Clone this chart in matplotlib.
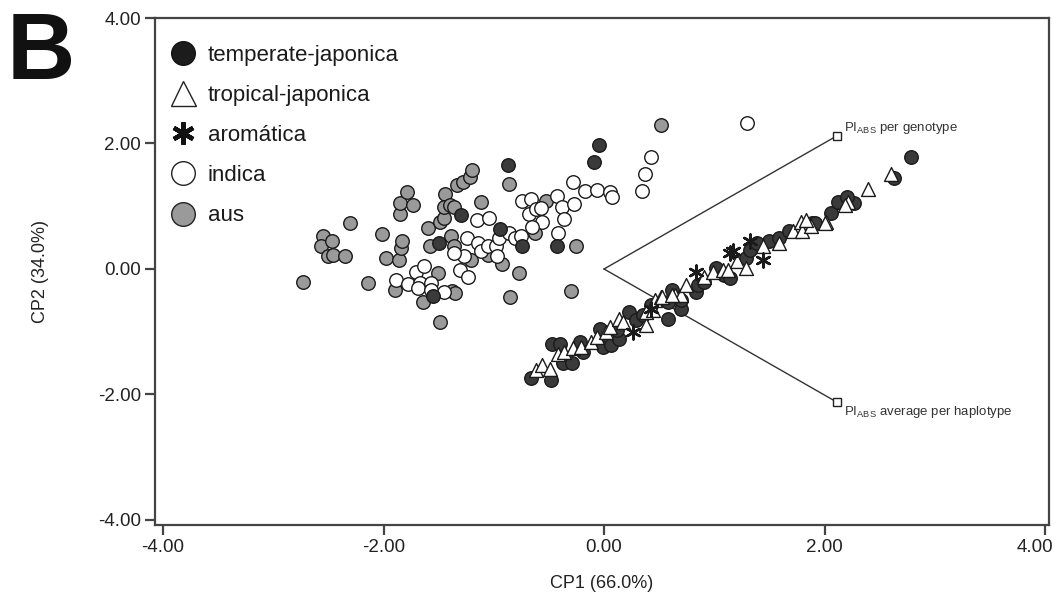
import matplotlib
matplotlib.use("Agg")
import matplotlib.pyplot as plt
from matplotlib.lines import Line2D
import matplotlib.transforms as mtransforms

plt.rcParams['font.family'] = ['Liberation Sans', 'DejaVu Sans']
plt.rcParams['mathtext.default'] = 'regular'

# ---------------- data ----------------
aus_x = [-2.73, -2.55, -2.57, -2.47, -2.50, -2.46, -2.35, -2.30, -2.14, -2.01, -1.98, -1.90,
         -1.86, -1.84, -1.83, -1.85, -1.85, -1.79, -1.73, -1.64, -1.60, -1.58, -1.51, -1.49,
         -1.45, -1.44, -1.45, -1.40, -1.36, -1.39, -1.36, -1.33, -1.28, -1.22, -1.20, -1.49,
         -1.38, -1.35, -1.21, -1.12, -1.05, -0.93, -0.86, -0.85, -0.77, -0.63, -0.53, -0.30,
         -0.25, 0.52]
aus_y = [-0.21, 0.53, 0.37, 0.44, 0.20, 0.22, 0.21, 0.74, -0.23, 0.55, 0.18, -0.33,
         0.14, 0.33, 0.45, 0.88, 1.05, 1.22, 1.02, -0.53, 0.65, 0.37, -0.06, 0.75,
         0.82, 1.20, 0.98, 1.02, 0.98, 0.53, 0.37, 1.34, 1.38, 1.47, 1.57, -0.85,
         -0.35, -0.38, 0.14, 1.07, 0.22, 0.08, 1.35, -0.45, -0.07, 0.57, 1.09, -0.35,
         0.36, 2.30]

indica_x = [-1.89, -1.78, -1.71, -1.63, -1.67, -1.57, -1.69, -1.57, -1.45, -1.31, -1.23, -1.27,
            -1.36, -1.24, -1.15, -1.04, -1.14, -1.12, -1.05, -0.98, -0.97, -0.95, -0.86, -0.81,
            -0.75, -0.74, -0.66, -0.68, -0.62, -0.57, -0.56, -0.65, -0.43, -0.38, -0.36, -0.42,
            -0.28, -0.27, -0.17, -0.06, 0.05, 0.07, 0.34, 0.37, 0.43, 1.30]
indica_y = [-0.18, -0.24, -0.04, 0.05, -0.22, -0.22, -0.31, -0.33, -0.37, -0.02, -0.13, 0.20,
            0.25, 0.49, 0.78, 0.81, 0.41, 0.29, 0.36, 0.37, 0.21, 0.49, 0.57, 0.49,
            0.53, 1.09, 1.11, 0.88, 0.95, 0.97, 0.75, 0.67, 1.16, 0.98, 0.80, 0.58,
            1.39, 1.03, 1.24, 1.26, 1.22, 1.14, 1.25, 1.52, 1.78, 2.32]

temperate_x = [-0.87, -0.05, -0.09, -1.30, -0.94, -1.50, -0.74, -1.55, -0.43,
               -0.66, -0.48, -0.47, -0.40, -0.37, -0.29, -0.22, -0.19, -0.04, -0.01,
               0.06, 0.14, 0.12, 0.23, 0.29, 0.35, 0.58, 0.62, 0.70, 0.43,
               0.58, 0.70, 0.83, 0.85, 1.02, 1.09, 1.14, 1.29, 1.32, 1.39,
               1.50, 1.59, 1.68, 1.89, 2.06, 2.15, 2.27, 0.91, 2.78, 2.63,
               2.12, 2.20, 1.91]
temperate_y = [1.65, 1.98, 1.70, 0.86, 0.63, 0.42, 0.37, -0.43, 0.37,
               -1.73, -1.77, -1.19, -1.19, -1.50, -1.50, -1.16, -1.32, -0.95, -1.24,
               -1.21, -1.11, -0.97, -0.68, -0.81, -0.73, -0.80, -0.33, -0.63, -0.57,
               -0.52, -0.49, -0.36, -0.26, 0.01, -0.10, -0.15, 0.17, 0.30, 0.41,
               0.44, 0.49, 0.60, 0.73, 0.89, 1.05, 1.05, -0.20, 1.78, 1.45,
               1.07, 1.15, 0.73]

tropical_x = [-0.62, -0.56, -0.49, -0.42, -0.36, -0.28, -0.21, -0.12, -0.06, 0.02,
              0.05, 0.14, 0.17, 0.38, 0.38, 0.44, 0.46, 0.52, 0.64, 0.70,
              0.74, 0.53, 0.62, 0.91, 0.99, 1.08, 1.12, 1.21, 1.29, 1.44,
              1.59, 1.71, 1.79, 1.80, 1.88, 2.01, 2.21, 2.60, 2.39, 2.19,
              1.83, 2.00]
tropical_y = [-1.61, -1.53, -1.60, -1.36, -1.32, -1.26, -1.24, -1.16, -1.08, -1.00,
              -0.92, -0.79, -0.84, -0.89, -0.68, -0.65, -0.49, -0.44, -0.41, -0.41,
              -0.26, -0.44, -0.41, -0.12, -0.04, -0.02, -0.02, 0.12, 0.01, 0.36,
              0.41, 0.61, 0.75, 0.60, 0.68, 0.75, 1.07, 1.52, 1.27, 1.02,
              0.78, 0.74]

aromatic_x = [0.26, 0.83, 1.17, 1.32, 1.44, 1.14, 0.43]
aromatic_y = [-1.00, -0.04, 0.28, 0.44, 0.14, 0.25, -0.63]

vector_labels = ["PI$_{ABS}$ per genotype", "PI$_{ABS}$ average per haplotype"]
vector_x = [2.11, 2.11]
vector_y = [2.12, -2.12]

group_labels = ["temperate-japonica", "tropical-japonica", "aromática", "indica", "aus"]
ticks = [-4.0, -2.0, 0.0, 2.0, 4.0]
tick_labels = ["-4.00", "-2.00", "0.00", "2.00", "4.00"]

# ---------------- figure ----------------
W, H = 1057, 599
fig = plt.figure(figsize=(W / 100, H / 100), dpi=100)
ax = fig.add_axes([155 / W, 1 - 525 / H, (1049 - 155) / W, (525 - 18) / H])

dark = '#3a3a3a'
grey = '#9a9a9a'
edge = '#1a1a1a'
S = 95

ax.scatter(aus_x, aus_y, s=S, marker='o', facecolor=grey, edgecolor=edge, linewidth=1.0, zorder=3)
ax.scatter(indica_x, indica_y, s=S, marker='o', facecolor='white', edgecolor=edge, linewidth=1.0, zorder=3)
ax.scatter(temperate_x, temperate_y, s=S, marker='o', facecolor=dark, edgecolor=edge, linewidth=1.0, zorder=3)
ax.scatter(tropical_x, tropical_y, s=100, marker='^', facecolor='white', edgecolor=edge, linewidth=1.0, zorder=4)
ax.scatter(aromatic_x, aromatic_y, s=100, marker=(6, 2, 0), facecolor=edge, edgecolor=edge, linewidth=1.8, zorder=5)

# biplot vectors
for vx, vy, lab in zip(vector_x, vector_y, vector_labels):
    ax.plot([0, vx], [0, vy], color='#333333', lw=1.0, zorder=2)
    ax.plot([vx], [vy], marker='s', ms=6, mfc='white', mec='#222222', mew=1.0, zorder=6)
    dy = 0.12 if vy > 0 else -0.16
    ax.text(vx + 0.07, vy + dy, lab, fontsize=9.5, color='#333333', ha='left', va='center', zorder=6)

ax.set_xlim(-4.073, 4.036)
ax.set_ylim(-4.08, 4.0)
ax.set_xticks(ticks)
ax.set_xticklabels(tick_labels)
ax.set_yticks(ticks)
ax.set_yticklabels(tick_labels)
for sp in ax.spines.values():
    sp.set_color('#444444')
    sp.set_linewidth(1.6)
ax.tick_params(direction='out', length=7, width=1.6, color='#444444', labelsize=13.5,
               labelcolor='#222222', pad=3)
# last x tick label shifted left so it stays inside the figure (as in the reference)
last = ax.get_xticklabels()[-1]
last.set_transform(last.get_transform() + mtransforms.ScaledTranslation(-10 / 100, 0, fig.dpi_scale_trans))

ax.set_xlabel("CP1 (66.0%)", fontsize=13, color='#222222', labelpad=14)
ax.set_ylabel("CP2 (34.0%)", fontsize=13, color='#222222', labelpad=35)

# legend
handles = [
    Line2D([], [], ls='none', marker='o', ms=17, mfc='#1c1c1c', mec='#111111', mew=1.0),
    Line2D([], [], ls='none', marker='^', ms=18, mfc='white', mec='#222222', mew=1.0),
    Line2D([], [], ls='none', marker=(6, 2, 0), ms=16, mfc='#111111', mec='#111111', mew=3.2),
    Line2D([], [], ls='none', marker='o', ms=17, mfc='white', mec='#222222', mew=1.0),
    Line2D([], [], ls='none', marker='o', ms=17, mfc=grey, mec='#222222', mew=1.0),
]
ax.legend(handles, group_labels, loc='upper left', bbox_to_anchor=(0.019, 0.947), frameon=False,
          fontsize=16, handlelength=1.0, handletextpad=0.62, labelspacing=0.86,
          borderaxespad=0.0, borderpad=0.0, labelcolor='#1a1a1a')

fig.text(7 / W, 1 - 79 / H, "B", fontsize=68, fontweight='bold', color='#111111', ha='left', va='baseline')

fig.savefig("out.png", dpi=100)
